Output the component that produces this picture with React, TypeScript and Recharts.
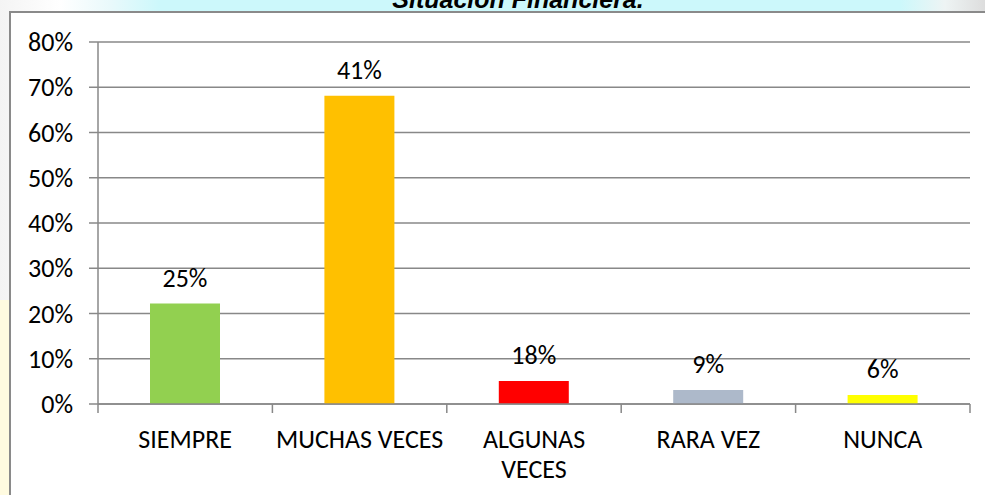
import React from "react";
import {
  BarChart,
  Bar,
  Cell,
  XAxis,
  YAxis,
  CartesianGrid,
  LabelList,
} from "recharts";

const categories = ["SIEMPRE", "MUCHAS VECES", "ALGUNAS VECES", "RARA VEZ", "NUNCA"];
// lines of each category label as drawn under the axis
const tickLines = [["SIEMPRE"], ["MUCHAS VECES"], ["ALGUNAS", "VECES"], ["RARA VEZ"], ["NUNCA"]];
// bar heights as drawn (percent)
const barValues = [22.2, 68.1, 5.1, 3.1, 2];
// labels printed above the bars
const barLabels = ["25%", "41%", "18%", "9%", "6%"];
const barColors = ["#92d050", "#ffc000", "#ff0000", "#adb9ca", "#ffff00"];
const yTicks = [0, 10, 20, 30, 40, 50, 60, 70, 80];

const FONT = "Carlito, 'Open Sans', sans-serif";
const GRID = "#888888";

const data = categories.map((name, i) => ({
  name,
  value: barValues[i],
  label: barLabels[i],
}));

function CategoryTick(props: any) {
  const { x, y, index, payload } = props;
  const half = payload?.offset ?? 87.2;
  const lines = tickLines[index] || [payload.value];
  const isLast = index === categories.length - 1;
  return (
    <g>
      <line x1={x - half} y1={y} x2={x - half} y2={y + 9} stroke={GRID} strokeWidth={1.5} />
      {isLast && (
        <line x1={x + half} y1={y} x2={x + half} y2={y + 9} stroke={GRID} strokeWidth={1.5} />
      )}
      {lines.map((line: string, i: number) => (
        <text
          key={i}
          x={x}
          y={y + 44 + i * 30}
          textAnchor="middle"
          fill="#000"
          fontSize={26}
          fontFamily={FONT}
        >
          {line}
        </text>
      ))}
    </g>
  );
}

export default function App() {
  return (
    <div
      style={{
        position: "absolute",
        left: 0,
        top: 0,
        width: 985,
        height: 495,
        overflow: "hidden",
        background:
          "linear-gradient(to right, #f4f4f4 0px, #ffffff 60px, #e9f9fb 110px, #ccf8fb 160px, #ccf8fb 900px, #eef4f4 945px, #dddddd 985px)",
      }}
    >
      <div
        style={{
          position: "absolute",
          left: 0,
          top: 300,
          width: 9,
          height: 195,
          background: "#fffbe0",
        }}
      />
      <svg width={985} height={14} style={{ position: "absolute", left: 0, top: 0 }}>
        <text
          x={518}
          y={8}
          textAnchor="middle"
          fontFamily="'Liberation Sans', Arial, sans-serif"
          fontWeight="bold"
          fontStyle="italic"
          fontSize={25}
          fill="#000"
        >
          Situación Financiera.
        </text>
      </svg>
      <div
        style={{
          position: "absolute",
          left: 9,
          top: 11,
          width: 1000,
          height: 500,
          boxSizing: "border-box",
          borderTop: "2px solid #8a8a8a",
          borderLeft: "2px solid #8a8a8a",
          background: "#ffffff",
        }}
      />
      <div style={{ position: "absolute", left: 0, top: 0 }}>
        <BarChart
          width={985}
          height={495}
          data={data}
          margin={{ top: 42, right: 15, left: 0, bottom: 0 }}
        >
          <CartesianGrid vertical={false} stroke={GRID} strokeWidth={1.5} />
          <XAxis
            dataKey="name"
            height={91}
            stroke={GRID}
            strokeWidth={1.5}
            tickLine={false}
            tickSize={0}
            tickMargin={0}
            interval={0}
            tick={<CategoryTick />}
          />
          <YAxis
            width={98}
            domain={[0, 80]}
            ticks={yTicks}
            interval={0}
            stroke={GRID}
            strokeWidth={1.5}
            tickSize={9}
            tickMargin={16}
            tickFormatter={(v: number) => `${v}%`}
            tick={{ fill: "#000", fontSize: 26, fontFamily: FONT }}
          />
          <Bar dataKey="value" barSize={70} isAnimationActive={false}>
            {data.map((d, i) => (
              <Cell key={d.name} fill={barColors[i]} />
            ))}
            <LabelList
              dataKey="label"
              position="top"
              offset={17}
              fill="#000"
              fontSize={26}
              fontFamily={FONT}
            />
          </Bar>
        </BarChart>
      </div>
    </div>
  );
}
